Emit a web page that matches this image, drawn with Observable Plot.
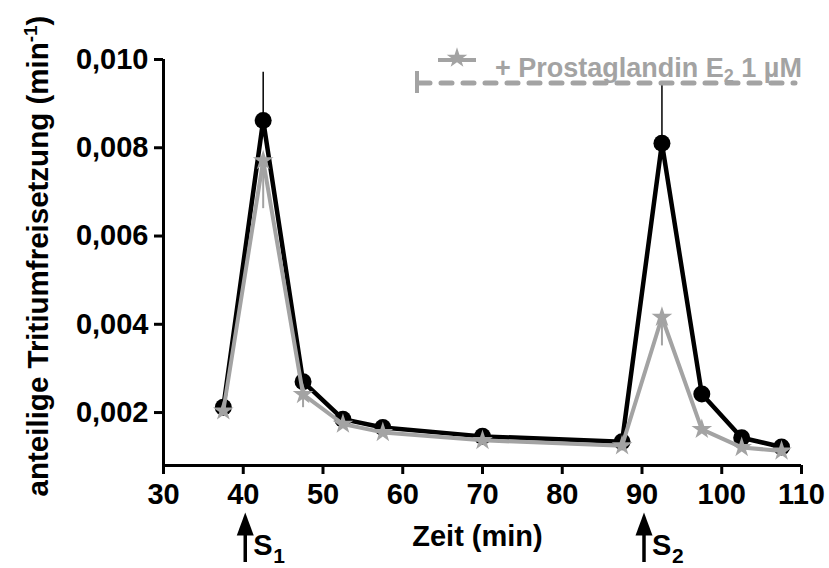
<!DOCTYPE html>
<html>
<head>
<meta charset="utf-8">
<script src="https://cdn.jsdelivr.net/npm/d3@7"></script>
<script src="https://cdn.jsdelivr.net/npm/@observablehq/plot@0.6"></script>
<style>
  html, body { margin: 0; padding: 0; background: #fff; }
  #chart { width: 829px; height: 568px; }
</style>
</head>
<body>
<div id="chart"></div>
<script>
// ---- data ----
const times = [37.5, 42.5, 47.5, 52.5, 57.5, 70, 87.5, 92.5, 97.5, 102.5, 107.5];
const control = [0.00212, 0.00862, 0.0027, 0.00185, 0.00166, 0.00146, 0.00134, 0.0081, 0.00242, 0.00143, 0.00122];
const controlErr = [0, 0.00109, 0, 0, 0, 0, 0, 0.00131, 0, 0, 0];
const pge2 = [0.00204, 0.00771, 0.00241, 0.00174, 0.00155, 0.00137, 0.00125, 0.00416, 0.00162, 0.00121, 0.00113];
const pge2Err = [0, 0.00109, 0.0003, 0, 0, 0, 0, 0.00065, 0, 0, 0];
const xTicks = [30, 40, 50, 60, 70, 80, 90, 100, 110];
const yTicks = [0.002, 0.004, 0.006, 0.008, 0.010];
const xDomain = [30, 110];
const yDomain = [0.0008, 0.010];
const stimTimes = [40, 90];
const stimSubs = ["1", "2"];
const xLabel = "Zeit (min)";
const yLabelMain = "anteilige Tritiumfreisetzung (min";
const yLabelSup = "-1";
const legendMain = "+ Prostaglandin E";
const legendSub = "2";
const legendRest = " 1 µM";

const rows = times.map((t, i) => ({t, c: control[i], ce: controlErr[i], p: pge2[i], pe: pge2Err[i]}));
const GRAY = "#a3a3a3";
const FONT = "'Liberation Sans', Arial, Helvetica, sans-serif";

const arrowHead = {
  draw(ctx) {
    ctx.moveTo(0, -12);
    ctx.lineTo(8.5, 11);
    ctx.lineTo(-8.5, 11);
    ctx.closePath();
  }
};

const plot = Plot.plot({
  width: 829,
  height: 568,
  marginLeft: 163,
  marginRight: 28,
  marginTop: 59,
  marginBottom: 103,
  style: {fontFamily: FONT, fontSize: "29px", fontWeight: "bold", background: "#fff", overflow: "visible"},
  x: {domain: xDomain},
  y: {domain: yDomain},
  marks: [
    Plot.ruleY([yDomain[0]], {x1: xDomain[0], x2: xDomain[1], stroke: "#000", strokeWidth: 3}),
    Plot.ruleX([xDomain[0]], {y1: yDomain[0], y2: yDomain[1], stroke: "#000", strokeWidth: 3}),
    Plot.axisX({ticks: xTicks, tickSize: 9, tickPadding: 9, strokeWidth: 3, label: null, tickFormat: d => String(d), fill: "#000", fontSize: 29}),
    Plot.axisY({ticks: yTicks, tickSize: 9, tickPadding: 6, strokeWidth: 3, label: null,
      tickFormat: d => d.toFixed(3).replace(".", ","), fill: "#000", fontSize: 29}),
    // control series (black)
    Plot.ruleX(rows.filter(d => d.ce > 0), {x: "t", y1: "c", y2: d => d.c + d.ce, stroke: "#000", strokeWidth: 1.5}),
    Plot.line(rows, {x: "t", y: "c", stroke: "#000", strokeWidth: 4.5}),
    Plot.dot(rows, {x: "t", y: "c", r: 8.5, fill: "#000", stroke: "none"}),
    // PGE2 series (gray)
    Plot.line(rows, {x: "t", y: "p", stroke: GRAY, strokeWidth: 4}),
    Plot.ruleX(rows.filter(d => d.pe > 0), {x: "t", y1: "p", y2: d => d.p - d.pe, stroke: GRAY, strokeWidth: 2}),
    Plot.dot(rows, {x: "t", y: "p", r: 6.5, symbol: "star", fill: GRAY, stroke: "none"}),
    // stimulation arrows
    Plot.ruleX(stimTimes, {x: d => d, dx: 2, insetTop: 474, insetBottom: -97, stroke: "#000", strokeWidth: 3.5}),
    Plot.dot(stimTimes, {x: d => d, dx: 2, frameAnchor: "bottom", dy: 59, symbol: arrowHead, r: 5, fill: "#000", stroke: "none"}),
    Plot.text(stimTimes, {x: d => d, text: () => "S", frameAnchor: "bottom", dy: 89, dx: 10, textAnchor: "start", fontSize: 29, fontWeight: "bold", fill: "#000"}),
    Plot.text(stimTimes, {x: d => d, text: (d, i) => stimSubs[i], frameAnchor: "bottom", dy: 97, dx: 30, textAnchor: "start", fontSize: 21, fontWeight: "bold", fill: "#000"}),
    // x label
    Plot.text([xLabel], {x: () => (xDomain[0] + xDomain[1]) / 2, text: d => d, frameAnchor: "bottom", dy: 80, dx: -5, fontSize: 29, fontWeight: "bold", fill: "#000"})
  ]
});

document.getElementById("chart").appendChild(plot);

const svg = d3.select(plot);
// y axis title with superscript
const yt = svg.append("text")
  .attr("transform", "translate(48,256) rotate(-90)")
  .attr("text-anchor", "middle")
  .attr("font-family", FONT)
  .attr("font-size", 29.5)
  .attr("font-weight", "bold")
  .attr("fill", "#000");
yt.append("tspan").text(yLabelMain);
yt.append("tspan").attr("font-size", 19).attr("dy", -11).text(yLabelSup);
yt.append("tspan").attr("dy", 11).text(")");

// legend
const lg = svg.append("g").attr("fill", GRAY).attr("stroke", GRAY);
lg.append("line").attr("x1", 417).attr("x2", 417).attr("y1", 71).attr("y2", 93).attr("stroke-width", 4);
lg.append("line").attr("x1", 419).attr("x2", 795).attr("y1", 83).attr("y2", 83)
  .attr("stroke-width", 5).attr("stroke-dasharray", "11,11").attr("stroke-linecap", "round");
lg.append("line").attr("x1", 438).attr("x2", 476).attr("y1", 60).attr("y2", 60).attr("stroke-width", 4);
lg.append("path").attr("d", d3.symbol(d3.symbolStar, Math.PI * 42)()).attr("transform", "translate(457,58)").attr("stroke", "none");
const lt = lg.append("text").attr("x", 495).attr("y", 77).attr("stroke", "none")
  .attr("text-anchor", "start")
  .attr("font-family", FONT).attr("font-size", 27).attr("font-weight", "bold");
lt.append("tspan").text(legendMain);
lt.append("tspan").attr("font-size", 18).attr("dy", 5).text(legendSub);
lt.append("tspan").attr("dy", -5).text(legendRest);
</script>
</body>
</html>
